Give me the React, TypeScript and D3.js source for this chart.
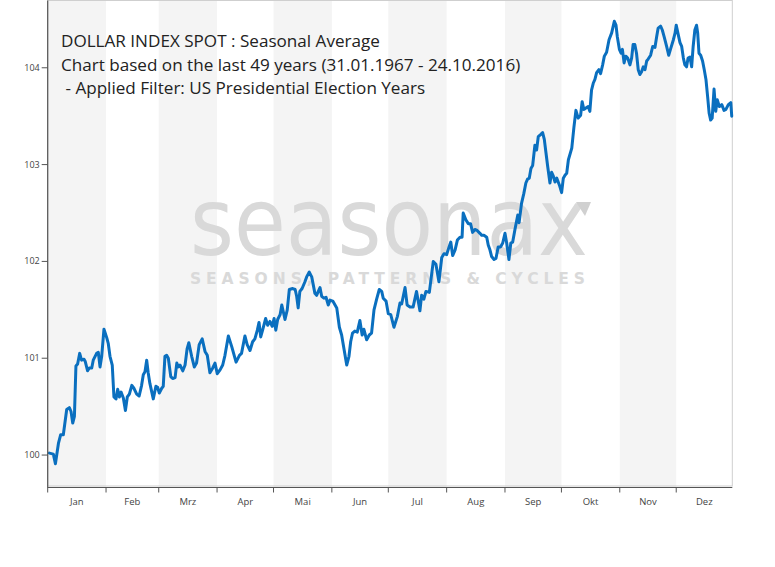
import React from "react";
import * as d3 from "d3";

// ---- data ----
const monthLabels = ["Jan", "Feb", "Mrz", "Apr", "Mai", "Jun", "Jul", "Aug", "Sep", "Okt", "Nov", "Dez"];
const monthStartDays = [0, 31, 59, 90, 120, 151, 181, 212, 243, 273, 304, 334, 365];
const yTicks = [100, 101, 102, 103, 104];
const titleLines = [
  "DOLLAR INDEX SPOT : Seasonal Average",
  "Chart based on the last 49 years (31.01.1967 - 24.10.2016)",
  " - Applied Filter: US Presidential Election Years",
];

// day of year (0 = 1 Jan) of each reading
const dayOfYear = [
  0.9, 3.0, 4.1, 5.7, 6.9, 8.3, 10.1, 11.5, 12.4, 13.3, 14.2, 15.0, 15.9, 17.0, 18.0, 19.3, 19.9, 21.2, 22.1, 23.4,
  24.2, 26.0, 26.9, 27.8, 28.7, 29.9, 31.4, 32.2, 33.1, 34.3, 35.2, 36.3, 37.2, 38.1, 39.0, 40.2, 41.3, 42.3, 43.4, 44.7,
  45.8, 47.3, 48.6, 49.9, 50.8, 51.7, 52.6, 53.4, 54.3, 56.1, 57.5, 58.4, 59.3, 60.6, 61.4, 62.3, 63.2, 64.1, 65.4, 66.4,
  67.7, 68.6, 69.4, 70.3, 71.8, 73.0, 74.1, 75.0, 76.5, 77.9, 79.1, 80.5, 82.1, 83.6, 84.8, 86.2, 87.7, 88.9, 90.1, 91.6,
  93.0, 94.2, 96.0, 97.8, 100.1, 101.9, 103.0, 104.8, 106.0, 107.5, 108.9, 110.1, 111.4, 112.3, 113.2, 114.2, 115.8, 116.9, 118.1, 119.3,
  120.3, 121.2, 122.2, 123.5, 124.4, 125.2, 126.1, 127.3, 128.4, 130.2, 131.5, 132.3, 133.1, 134.0, 135.2, 136.7, 137.6, 139.0, 140.3, 141.1,
  142.0, 142.9, 143.8, 144.7, 145.6, 146.8, 147.9, 149.1, 150.0, 151.5, 152.7, 153.6, 155.0, 156.2, 157.5, 158.9, 160.1, 161.0, 162.0, 163.2,
  164.5, 165.9, 167.1, 168.0, 169.5, 170.9, 172.1, 173.4, 174.8, 176.2, 177.5, 178.3, 179.8, 181.0, 182.3, 184.0, 185.8, 187.2, 188.1, 189.9,
  191.0, 192.5, 194.2, 196.0, 197.8, 198.7, 199.9, 201.0, 202.8, 204.9, 206.3, 207.9, 209.4, 210.6, 212.0, 213.3, 214.2, 215.2, 216.5, 217.7,
  219.1, 220.2, 220.8, 222.2, 223.5, 224.7, 225.8, 227.0, 228.2, 229.7, 230.6, 231.8, 233.3, 234.1, 235.0, 235.9, 237.2, 238.2, 239.4, 240.7,
  241.8, 243.0, 243.9, 245.1, 246.1, 247.1, 248.3, 249.8, 250.5, 251.8, 253.0, 254.1, 255.0, 255.9, 256.8, 257.7, 258.9, 259.8, 260.7, 261.9,
  263.0, 263.9, 264.8, 265.7, 266.9, 267.8, 268.7, 269.6, 270.5, 271.9, 273.1, 274.0, 274.9, 275.8, 276.7, 278.5, 279.6, 280.7, 281.9, 283.2,
  284.0, 284.9, 286.4, 287.2, 288.1, 289.0, 289.9, 290.8, 291.7, 292.9, 293.8, 294.9, 295.8, 297.0, 298.3, 299.7, 301.1, 302.0, 302.7, 303.8,
  304.7, 305.4, 306.3, 307.2, 308.2, 309.4, 310.3, 311.1, 312.0, 312.9, 313.8, 314.7, 315.6, 316.5, 317.4, 318.3, 319.1, 320.4, 321.5, 322.7,
  323.6, 324.4, 325.7, 326.6, 327.6, 328.9, 330.0, 331.1, 332.5, 333.4, 334.0, 335.1, 336.0, 336.9, 337.8, 338.6, 339.5, 340.3, 341.3, 342.2,
  343.0, 343.9, 344.8, 345.4, 346.1, 347.0, 348.0, 348.9, 349.8, 350.7, 351.5, 352.3, 353.1, 354.1, 355.0, 355.8, 356.9, 358.2, 359.4, 360.4,
  361.7, 363.0, 363.5,
];

// seasonal average index level
const seasonalValue = [
  100.02, 100.01, 99.91, 100.12, 100.21, 100.21, 100.47, 100.49, 100.45, 100.33, 100.40, 100.92, 100.94, 101.05, 100.98, 100.99, 100.97, 100.87, 100.90, 100.90,
  100.98, 101.05, 101.06, 100.91, 101.02, 101.30, 101.21, 101.15, 101.02, 100.93, 100.60, 100.58, 100.68, 100.60, 100.65, 100.59, 100.46, 100.60, 100.63, 100.72,
  100.69, 100.63, 100.61, 100.72, 100.83, 100.86, 100.98, 100.85, 100.74, 100.58, 100.71, 100.70, 100.64, 100.69, 100.71, 101.02, 101.03, 101.00, 100.81, 100.79,
  100.80, 100.95, 100.91, 100.93, 100.87, 100.93, 101.10, 101.16, 101.02, 100.91, 100.95, 101.14, 101.20, 101.07, 101.03, 100.85, 100.90, 100.95, 100.84, 100.88,
  100.93, 101.03, 101.23, 101.12, 100.96, 101.03, 101.05, 101.23, 101.14, 101.08, 101.17, 101.20, 101.29, 101.37, 101.22, 101.29, 101.41, 101.34, 101.38, 101.33,
  101.41, 101.29, 101.40, 101.45, 101.55, 101.48, 101.40, 101.50, 101.71, 101.72, 101.71, 101.64, 101.52, 101.69, 101.72, 101.79, 101.84, 101.89, 101.84, 101.76,
  101.67, 101.65, 101.69, 101.73, 101.64, 101.62, 101.63, 101.55, 101.60, 101.59, 101.55, 101.52, 101.32, 101.24, 101.09, 100.93, 101.02, 101.17, 101.26, 101.28,
  101.27, 101.39, 101.24, 101.30, 101.19, 101.24, 101.26, 101.50, 101.61, 101.71, 101.69, 101.62, 101.59, 101.46, 101.45, 101.32, 101.43, 101.57, 101.56, 101.73,
  101.55, 101.53, 101.53, 101.69, 101.49, 101.65, 101.61, 101.69, 101.68, 102.00, 101.97, 101.79, 102.04, 102.08, 102.07, 102.15, 102.20, 102.06, 102.12, 102.22,
  102.25, 102.25, 102.50, 102.43, 102.39, 102.39, 102.30, 102.33, 102.32, 102.29, 102.27, 102.27, 102.25, 102.17, 102.12, 102.05, 102.02, 102.03, 102.15, 102.15,
  102.19, 102.29, 102.19, 102.02, 102.19, 102.20, 102.33, 102.48, 102.40, 102.60, 102.70, 102.81, 102.85, 102.86, 102.96, 102.99, 103.20, 103.15, 103.29, 103.31,
  103.33, 103.26, 103.12, 102.98, 102.81, 102.92, 102.88, 102.82, 102.86, 102.79, 102.71, 102.86, 102.89, 102.91, 103.05, 103.17, 103.38, 103.56, 103.48, 103.51,
  103.65, 103.57, 103.59, 103.60, 103.55, 103.77, 103.84, 103.88, 103.95, 103.98, 103.94, 104.03, 104.12, 104.16, 104.29, 104.36, 104.48, 104.44, 104.32, 104.19,
  104.15, 104.19, 104.05, 104.12, 104.10, 104.03, 104.10, 104.24, 104.24, 104.15, 103.98, 103.93, 103.96, 104.01, 103.98, 104.07, 104.09, 104.13, 104.22, 104.21,
  104.32, 104.41, 104.43, 104.39, 104.32, 104.22, 104.13, 104.20, 104.29, 104.36, 104.44, 104.34, 104.26, 104.22, 104.10, 104.03, 104.01, 104.10, 104.11, 104.01,
  104.22, 104.39, 104.44, 104.36, 104.15, 104.13, 104.07, 103.98, 103.88, 103.70, 103.53, 103.46, 103.48, 103.78, 103.55, 103.67, 103.60, 103.62, 103.56, 103.57,
  103.62, 103.64, 103.50,
];

const WIDTH = 775;
const HEIGHT = 567;
const LEFT = 47.7;
const RIGHT = 732.3;
const TOP = 0.5;
const BOTTOM = 487;
const LAST_DAY = 363.8;

export default function App() {
  const x = d3.scaleLinear().domain([0, LAST_DAY]).range([LEFT, RIGHT]);
  const y = d3.scaleLinear().domain([99.67, 104.7]).range([BOTTOM, 0]);

  const points = dayOfYear.map((d, i) => [d, seasonalValue[i]] as [number, number]);
  const linePath = d3
    .line<[number, number]>()
    .x((p) => x(p[0]))
    .y((p) => y(p[1]))(points) as string;

  const months = monthLabels.map((label, i) => {
    const start = monthStartDays[i];
    const end = Math.min(monthStartDays[i + 1], LAST_DAY);
    return { label, x0: x(start), x1: x(end), shaded: i % 2 === 0 };
  });

  const font = "'Open Sans', 'Noto Sans', 'DejaVu Sans', sans-serif";

  return (
    <svg
      width={WIDTH}
      height={HEIGHT}
      style={{ position: "absolute", left: 0, top: 0, background: "#fff" }}
      fontFamily={font}
    >
      {/* month bands */}
      {months.map((m) =>
        m.shaded ? (
          <rect key={"b" + m.label} x={m.x0} y={TOP} width={m.x1 - m.x0} height={BOTTOM - TOP} fill="#f4f4f4" />
        ) : null
      )}
      {/* plot frame */}
      <rect x={LEFT} y={TOP} width={RIGHT - LEFT} height={BOTTOM - 1 - TOP} fill="none" stroke="#cfcfcf" strokeWidth={1} />

      {/* watermark */}
      <g fill="#d9d9d9">
        <text x={190} y={255} fontFamily="'DejaVu Sans', sans-serif" fontSize={94} textLength={398} lengthAdjust="spacingAndGlyphs">
          seasonax
        </text>
        <polygon points="576,202 591,202 585,216" fill="#d0d0d0" />
        <text
          x={190}
          y={283.5}
          fontFamily="'DejaVu Sans', sans-serif"
          fontWeight={600}
          fontSize={15.5}
          textLength={395}
          lengthAdjust="spacing"
        >
          SEASONS, PATTERNS &amp; CYCLES
        </text>
      </g>

      {/* title */}
      <g fill="#222" fontSize={17.1}>
        {titleLines.map((t, i) => (
          <text key={i} x={61} y={47 + i * 23.6} style={{ whiteSpace: "pre" }}>
            {t}
          </text>
        ))}
      </g>

      {/* series */}
      <path d={linePath} fill="none" stroke="#0a6fbf" strokeWidth={3} strokeLinejoin="round" strokeLinecap="round" />

      {/* y axis */}
      <line x1={LEFT} x2={LEFT} y1={TOP} y2={BOTTOM + 0.5} stroke="#555" strokeWidth={1.2} />
      {yTicks.map((t) => (
        <g key={"y" + t} transform={`translate(0,${y(t)})`}>
          <line x1={LEFT - 6} x2={LEFT} y1={0} y2={0} stroke="#555" strokeWidth={1} />
          <text x={LEFT - 8} y={3} textAnchor="end" fontSize={9} fill="#444">
            {t}
          </text>
        </g>
      ))}

      {/* x axis */}
      <line x1={LEFT} x2={RIGHT} y1={BOTTOM + 0.5} y2={BOTTOM + 0.5} stroke="#555" strokeWidth={1.2} />
      {monthStartDays.slice(0, 12).map((d, i) => (
        <line key={"t" + i} x1={x(d)} x2={x(d)} y1={BOTTOM} y2={BOTTOM + 5.5} stroke="#555" strokeWidth={1} />
      ))}
      {months.map((m) => (
        <text key={"l" + m.label} x={(m.x0 + m.x1) / 2} y={505} textAnchor="middle" fontSize={9.5} fill="#444">
          {m.label}
        </text>
      ))}
    </svg>
  );
}
